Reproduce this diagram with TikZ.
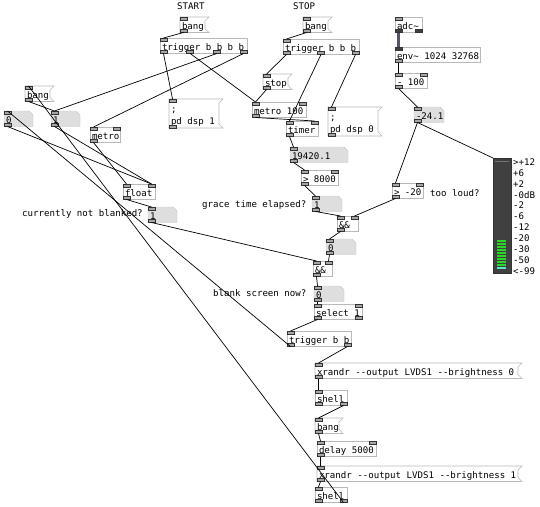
\documentclass[tikz,border=0pt]{standalone}
\usepackage{fontspec}
\newfontfamily\pdmono{DejaVu Sans Mono}[Ligatures=TeXOff]
\newcommand{\pdtext}{\pdmono\fontsize{9.1pt}{12pt}\selectfont}
\usepackage{tikz}
\usetikzlibrary{calc, backgrounds}
\definecolor{boxgray}{RGB}{185,185,185}
\definecolor{atomgray}{RGB}{222,222,222}
\definecolor{sigwire}{RGB}{85,85,112}
\definecolor{vudark}{RGB}{64,64,64}
\definecolor{ledgreen}{RGB}{40,215,40}
\definecolor{ledcyan}{RGB}{90,230,205}

% inlets and outlets along the top and bottom edge of a box
\newcommand{\pdio}[3]{%
    \foreach \i in {1,...,#2}{
        \pgfmathsetmacro{\f}{(\i-1)/max(#2-1,1)}
        \node[iolet, anchor=north] (#1-i\i) at ($([xshift=3.5pt]#1.north west)!\f!([xshift=-3.5pt]#1.north east)$) {};
    }
    \foreach \i in {1,...,#3}{
        \pgfmathsetmacro{\f}{(\i-1)/max(#3-1,1)}
        \node[iolet, anchor=south] (#1-o\i) at ($([xshift=3.5pt]#1.south west)!\f!([xshift=-3.5pt]#1.south east)$) {};
    }
}
% message box outline with the flag on the right
\newcommand{\pdflag}[1]{%
    \draw[boxline] (#1.north west) -- ([xshift=4pt]#1.north east) -- ([yshift=-4pt]#1.north east)
        -- ([yshift=4pt]#1.south east) -- ([xshift=4pt]#1.south east) -- (#1.south west) -- cycle;
}
% number box with the cut corner
\newcommand{\pdatom}[1]{%
    \begin{pgfonlayer}{background}
        \filldraw[fill=atomgray, draw=atomgray!90!black, line width=0.4pt] (#1.north west) -- ([xshift=-4pt]#1.north east)
            -- ([yshift=-4pt]#1.north east) -- (#1.south east) -- (#1.south west) -- cycle;
    \end{pgfonlayer}
}

\begin{document}
\begin{tikzpicture}[
        x=1pt, y=-1pt,
        pdbox/.style={anchor=north west, inner xsep=2pt, inner ysep=0pt, outer sep=0pt, align=flush left, font=\pdtext, minimum height=15.5pt},
        single/.style={text height=9.5pt, text depth=0.5pt, execute at begin node={\hbox\bgroup}, execute at end node={\egroup}},
        obj/.style={pdbox, single, draw=boxgray, line width=0.6pt},
        msg/.style={pdbox, single},
        msgtwo/.style={pdbox, minimum height=29pt, text height=13pt, text depth=15.5pt},
        atom/.style={pdbox, single},
        boxline/.style={draw=boxgray, line width=0.6pt},
        iolet/.style={draw=black!80, fill=black!35, minimum width=7pt, minimum height=3pt, inner sep=0pt, outer sep=0pt, line width=0.4pt},
        sigiolet/.style={iolet, fill=black!75},
        wire/.style={black, line width=0.7pt},
        sig/.style={sigwire, line width=2.2pt},
        note/.style={anchor=west, font=\pdtext, inner sep=0pt}
    ]
    \useasboundingbox (0,0) rectangle (540,506);
    \begin{pgfonlayer}{background}
        \fill[white] (0,0) rectangle (540,506);
    \end{pgfonlayer}

    % start / stop
    \node[note] (startlbl) at (177,6) {START};
    \node[note] (stoplbl) at (293,6) {STOP};
    \node[msg, text width=21pt] (startbang) at (180,17) {bang};
    \node[obj, text width=83pt] (trigA) at (160,38) {trigger b b b b};
    \node[msgtwo, text width=46pt] (dsp1) at (169,99) {;\\pd dsp 1};
    \node[msg, text width=21pt] (stopbang) at (303,17) {bang};
    \node[obj, text width=72pt] (trigB) at (283,39) {trigger b b b};
    \node[msg, text width=21pt] (stopmsg) at (263,74) {stop};
    \node[obj, text width=50pt] (metroB) at (252,102) {metro 100};
    \node[obj, text width=28pt] (timer) at (286,121) {timer};
    \node[msgtwo, text width=46pt] (dsp0) at (328,107) {;\\pd dsp 0};
    \node[atom, text width=54pt] (elapsed) at (290,147) {19420.1};
    \node[obj, text width=33pt] (gtA) at (301,170) {> 8000};
    \node[note] (gracelbl) at (202,205) {grace time elapsed?};
    \node[atom, text width=26pt] (grace) at (312,196) {1};

    % blanked state
    \node[msg, text width=21pt] (lbang) at (25,86) {bang};
    \node[atom, text width=25pt] (zero) at (4,111) {0};
    \node[atom, text width=25pt] (one) at (51,111) {1};
    \node[obj, text width=26pt] (metroA) at (90,127) {metro};
    \node[obj, text width=28pt] (floatA) at (123,184) {float};
    \node[note] (blankedlbl) at (22,214) {currently not blanked?};
    \node[atom, text width=25pt] (notblank) at (148,207) {1};

    % level
    \node[obj, text width=23pt] (adc) at (395,17) {adc\textasciitilde};
    \node[obj, text width=81pt] (env) at (395,47) {env\textasciitilde{} 1024 32768};
    \node[obj, text width=28pt] (minus) at (395,73) {- 100};
    \node[atom, text width=26pt] (level) at (414,107) {-24.1};
    \node[obj, text width=27pt] (gtB) at (392,183) {> -20};
    \node[note] (loudlbl) at (430,193) {too loud?};
    \node[draw=vudark!80!black, fill=vudark, minimum width=18pt, minimum height=115pt, anchor=north west, inner sep=0pt, outer sep=0pt] (vu) at (493,158) {};

    % decision
    \node[obj, text width=17pt] (andA) at (337,216) {\&\&};
    \node[atom, text width=26pt] (loud) at (326,239) {0};
    \node[obj, text width=15pt] (andB) at (313,261) {\&\&};
    \node[note] (blanklbl) at (213,293) {blank screen now?};
    \node[atom, text width=26pt] (blank) at (314,286) {0};
    \node[obj, text width=44pt] (select) at (314,304) {select 1};
    \node[obj, text width=60pt] (trigC) at (287,331) {trigger b b};
    \node[msg, text width=199pt] (xroff) at (315,363) {xrandr --output LVDS1 --brightness 0};
    \node[obj, text width=28pt] (shellA) at (315,390) {shell};
    \node[msg, text width=20pt] (bangB) at (315,418) {bang};
    \node[obj, text width=55pt] (delay) at (317,441) {delay 5000};
    \node[msg, text width=197pt] (xron) at (317,466) {xrandr --output LVDS1 --brightness 1};
    \node[obj, text width=28pt] (shellB) at (315,487) {shell};

    % box outlines
    \foreach \m in {startbang, dsp1, stopbang, stopmsg, dsp0, lbang, xroff, bangB, xron} {\pdflag{\m}}
    \foreach \a in {elapsed, grace, zero, one, notblank, level, loud, blank} {\pdatom{\a}}

    % vu meter
    \fill[ledcyan] (497,269) rectangle (506,267);
    \foreach \k in {1,...,9} {\fill[ledgreen] (497,{269-3*\k}) rectangle (506,{267-3*\k});}
    \draw[black!55, line width=0.5pt] (495,161) -- (509,161);
    \foreach \lab [count=\i from 0] in {>+12,+6,+2,-0dB,-2,-6,-12,-20,-30,-50,<-99}
        \node[note] (vu-\i) at (513,{162+10.9*\i}) {\lab};

    % inlets / outlets
    \pdio{startbang}{1}{1} \pdio{trigA}{1}{4} \pdio{dsp1}{1}{1}
    \pdio{stopbang}{1}{1} \pdio{trigB}{1}{3} \pdio{stopmsg}{1}{1}
    \pdio{metroB}{2}{1} \pdio{timer}{2}{1} \pdio{dsp0}{1}{1}
    \pdio{elapsed}{1}{1} \pdio{gtA}{2}{1} \pdio{grace}{1}{1}
    \pdio{lbang}{1}{1} \pdio{zero}{1}{1} \pdio{one}{1}{1}
    \pdio{metroA}{2}{1} \pdio{floatA}{2}{1} \pdio{notblank}{1}{1}
    \pdio{adc}{1}{2} \pdio{env}{1}{1} \pdio{minus}{2}{1}
    \pdio{level}{1}{1} \pdio{gtB}{2}{1}
    \pdio{andA}{2}{1} \pdio{loud}{1}{1} \pdio{andB}{2}{1}
    \pdio{blank}{1}{1} \pdio{select}{2}{2} \pdio{trigC}{1}{2}
    \pdio{xroff}{1}{1} \pdio{shellA}{1}{2} \pdio{bangB}{1}{1}
    \pdio{delay}{2}{1} \pdio{xron}{1}{1} \pdio{shellB}{1}{2}
    \node[sigiolet] (adc-s1) at (adc-o1) {};
    \node[sigiolet] (adc-s2) at (adc-o2) {};
    \node[sigiolet] (env-s1) at (env-i1) {};

    % connections
    \draw[wire] (startbang-o1.south) -- (trigA-i1.north);
    \draw[wire] (trigA-o1.south) -- (dsp1-i1.north);
    \draw[wire] (trigA-o2.south) -- (metroB-i1.north);
    \draw[wire] (trigA-o3.south) -- (one-i1.north);
    \draw[wire] (trigA-o4.south) -- (metroA-i1.north);
    \draw[wire] (stopbang-o1.south) -- (trigB-i1.north);
    \draw[wire] (trigB-o1.south) -- (stopmsg-i1.north);
    \draw[wire] (trigB-o2.south) -- (timer-i1.north);
    \draw[wire] (trigB-o3.south) -- (dsp0-i1.north);
    \draw[wire] (stopmsg-o1.south) -- (metroB-i1.north);
    \draw[wire] (metroB-o1.south) -- (timer-i2.north);
    \draw[wire] (timer-o1.south) -- (elapsed-i1.north);
    \draw[wire] (elapsed-o1.south) -- (gtA-i1.north);
    \draw[wire] (gtA-o1.south) -- (grace-i1.north);
    \draw[wire] (grace-o1.south) -- (andA-i1.north);
    \draw[wire] (lbang-o1.south) -- (one-i1.north);
    \draw[wire] (zero-o1.south) -- (floatA-i2.north);
    \draw[wire] (one-o1.south) -- (floatA-i2.north);
    \draw[wire] (metroA-o1.south) -- (floatA-i1.north);
    \draw[wire] (floatA-o1.south) -- (notblank-i1.north);
    \draw[wire] (notblank-o1.south) -- (andB-i1.north);
    \draw[sig] (adc-o1.south) -- (env-i1.north);
    \draw[wire] (env-o1.south) -- (minus-i1.north);
    \draw[wire] (minus-o1.south) -- (level-i1.north);
    \draw[wire] (level-o1.south) -- (gtB-i1.north);
    \draw[wire] (level-o1.south) -- (vu.north west);
    \draw[wire] (gtB-o1.south) -- (andA-i2.north);
    \draw[wire] (andA-o1.south) -- (loud-i1.north);
    \draw[wire] (loud-o1.south) -- (andB-i2.north);
    \draw[wire] (andB-o1.south) -- (blank-i1.north);
    \draw[wire] (blank-o1.south) -- (select-i1.north);
    \draw[wire] (select-o1.south) -- (trigC-i1.north);
    \draw[wire] (trigC-o1.south) -- (zero-i1.north);
    \draw[wire] (trigC-o2.south) -- (xroff-i1.north);
    \draw[wire] (xroff-o1.south) -- (shellA-i1.north);
    \draw[wire] (shellA-o2.south) -- (bangB-i1.north);
    \draw[wire] (bangB-o1.south) -- (delay-i1.north);
    \draw[wire] (delay-o1.south) -- (xron-i1.north);
    \draw[wire] (xron-o1.south) -- (shellB-i1.north);
    \draw[wire] (shellB-o2.south) -- (lbang-i1.north);
\end{tikzpicture}
\end{document}
